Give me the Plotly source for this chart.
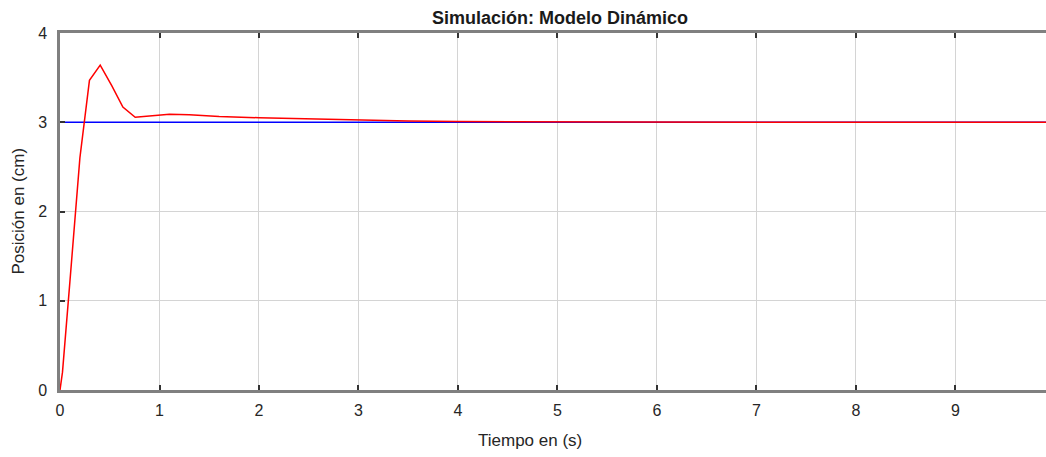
import plotly.graph_objects as go

# Simulated response of the dynamic model (position in cm vs time in s)
tiempo = [0.0, 0.025, 0.1, 0.2, 0.296, 0.404, 0.52, 0.632, 0.756, 0.9, 1.1, 1.3,
          1.6, 2.0, 2.5, 3.0, 3.5, 4.0, 5.0, 6.0, 7.0, 8.0, 9.0, 10.0]
posicion = [0.0, 0.2, 1.22, 2.6, 3.47, 3.64, 3.41, 3.17, 3.055, 3.07, 3.09, 3.085,
            3.065, 3.05, 3.035, 3.022, 3.013, 3.008, 3.003, 3.001, 3.0, 3.0, 3.0, 3.0]

# Reference (setpoint) signal
ref_t = [0.0, 10.0]
ref_y = [3.0, 3.0]

x_ticks = [0, 1, 2, 3, 4, 5, 6, 7, 8, 9]
y_ticks = [0, 1, 2, 3, 4]

fig = go.Figure()
fig.add_trace(go.Scatter(x=ref_t, y=ref_y, mode="lines",
                         line=dict(color="#0000ff", width=1.5), showlegend=False))
fig.add_trace(go.Scatter(x=tiempo, y=posicion, mode="lines",
                         line=dict(color="#ff0000", width=1.5), showlegend=False))

FAM = "Liberation Sans, Arial, sans-serif"
tick_font = dict(family=FAM, size=16, color="#262626")
label_font = dict(family=FAM, size=17, color="#262626")

fig.update_layout(
    width=1046, height=457,
    margin=dict(l=60, r=0, t=33, b=67),
    paper_bgcolor="white", plot_bgcolor="white",
    font=tick_font,
    xaxis=dict(range=[0, 9.91], tickvals=x_ticks, ticks="inside", ticklen=5,
               tickcolor="#333333", tickwidth=1.5, ticklabelstandoff=4,
               showline=True, linecolor="#808080", linewidth=2.5, mirror="ticks",
               showgrid=True, gridcolor="#d4d4d4", gridwidth=1, zeroline=False,
               tickfont=tick_font),
    yaxis=dict(range=[0, 4], tickvals=y_ticks, ticks="inside", ticklen=5,
               tickcolor="#333333", tickwidth=1.5, ticklabelstandoff=7,
               showline=True, linecolor="#808080", linewidth=2.5, mirror=False,
               showgrid=True, gridcolor="#d4d4d4", gridwidth=1, zeroline=False,
               tickfont=tick_font),
    annotations=[
        dict(text="<b>Simulación: Modelo Dinámico</b>", xref="paper", yref="paper",
             x=(560 - 60) / 986, y=1, xanchor="center", yanchor="middle", yshift=15,
             showarrow=False, font=dict(family=FAM, size=18, color="#1a1a1a")),
        dict(text="Tiempo en (s)", xref="paper", yref="paper",
             x=(530 - 60) / 986, y=0, xanchor="center", yanchor="middle", yshift=-50,
             showarrow=False, font=label_font),
        dict(text="Posición en (cm)", xref="paper", yref="paper",
             x=0, xshift=-42, y=0.5, xanchor="center", yanchor="middle",
             showarrow=False, textangle=-90, font=label_font),
    ],
)

fig.write_html("out.html")
